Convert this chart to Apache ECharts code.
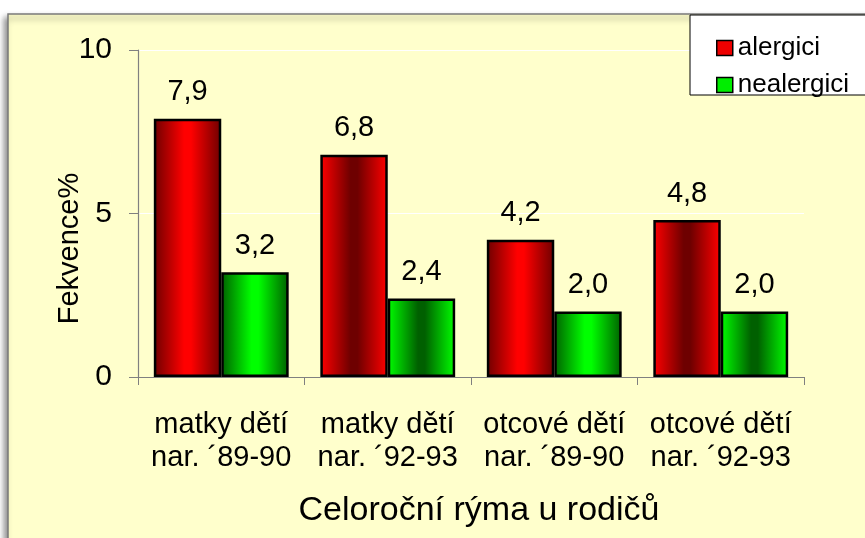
<!DOCTYPE html>
<html>
<head>
<meta charset="utf-8">
<script src="https://cdn.jsdelivr.net/npm/echarts@6/dist/echarts.min.js"></script>
<style>
    html, body { margin: 0; padding: 0; background: #ffffff; }
    #chart { width: 865px; height: 538px; }
</style>
</head>
<body>
<div id="chart"></div>
<script>
// data
const categories = [
    'matky dětí\nnar. ´89-90',
    'matky dětí\nnar. ´92-93',
    'otcové dětí\nnar. ´89-90',
    'otcové dětí\nnar. ´92-93',
]
const seriesNames = ['alergici', 'nealergici']
const alergici = [7.9, 6.8, 4.2, 4.8]
const nealergici = [3.2, 2.4, 2.0, 2.0]
const yTicks = [0, 5, 10]

const FONT = '"Liberation Sans", Arial, sans-serif'

// gradient per bar: light in middle (odd) or dark in middle (even)
function barColor(dark, light, idx) {
    const midDark = idx % 2 === 1
    const edge = midDark ? light : dark
    const mid = midDark ? dark : light
    return new echarts.graphic.LinearGradient(0, 0, 1, 0, [
        { offset: 0, color: edge },
        { offset: 0.45, color: mid },
        { offset: 0.55, color: mid },
        { offset: 1, color: edge },
    ])
}
function buildData(values, dark, light) {
    return values.map((v, i) => ({
        value: v,
        itemStyle: { color: barColor(dark, light, i) },
    }))
}

const myChart = echarts.init(document.getElementById('chart'))
const option = {
    animation: false,
    textStyle: { fontFamily: FONT },
    graphic: [
        {
            type: 'rect',
            z: -10,
            shape: { x: 8, y: 14, width: 900, height: 600 },
            style: {
                fill: '#FFFFCC',
                stroke: '#7a7a7a',
                lineWidth: 1.5,
                shadowBlur: 6,
                shadowOffsetX: -3,
                shadowOffsetY: 4,
                shadowColor: 'rgba(0,0,0,0.45)',
            },
        },
        {
            type: 'rect',
            z: 1,
            shape: { x: 690, y: 15, width: 200, height: 80 },
            style: { fill: '#ffffff', stroke: '#000000', lineWidth: 1 },
        },
    ],
    legend: {
        data: [
            { name: 'alergici', itemStyle: { color: '#ee0000', borderColor: '#000', borderWidth: 1.5 } },
            { name: 'nealergici', itemStyle: { color: '#00ee00', borderColor: '#000', borderWidth: 1.5 } },
        ],
        orient: 'vertical',
        left: 716,
        top: 35,
        itemWidth: 16,
        itemHeight: 15,
        itemGap: 11,
        icon: 'rect',
        padding: 0,
        z: 5,
        textStyle: { fontSize: 26, color: '#000', fontFamily: FONT, lineHeight: 26 },
    },
    grid: { left: 138, right: 61, top: 50, bottom: 161 },
    xAxis: {
        type: 'category',
        data: categories,
        name: 'Celoroční rýma u rodičů',
        nameLocation: 'middle',
        nameGap: 117,
        nameTextStyle: { fontSize: 34, color: '#000', fontFamily: FONT, padding: [0, 0, 0, 16] },
        axisLine: { lineStyle: { color: '#808080', width: 1.2 } },
        axisTick: { show: true, length: 8, lineStyle: { color: '#808080' } },
        axisLabel: {
            fontSize: 29,
            lineHeight: 33,
            color: '#000',
            margin: 31,
            interval: 0,
            fontFamily: FONT,
        },
    },
    yAxis: {
        type: 'value',
        min: 0,
        max: 10,
        interval: 5,
        name: 'Fekvence%',
        nameLocation: 'middle',
        nameGap: 54,
        nameMoveOverlap: false,
        nameTextStyle: { fontSize: 29, color: '#000', fontFamily: FONT, padding: [0, 70, 0, 0] },
        axisLine: { show: true, lineStyle: { color: '#808080', width: 1.2 } },
        axisTick: { show: true, inside: false, length: 9, lineStyle: { color: '#808080' } },
        axisLabel: {
            fontSize: 30,
            color: '#000',
            margin: 26,
            fontFamily: FONT,
            formatter: v => (yTicks.includes(v) ? String(v) : ''),
        },
        splitLine: { show: true, lineStyle: { color: '#ffffff', width: 1 } },
    },
    series: [
        {
            name: seriesNames[0],
            type: 'bar',
            barGap: '0%',
            barCategoryGap: '19%',
            data: buildData(alergici, '#6e0000', '#ff0000'),
            itemStyle: { borderColor: '#000', borderWidth: 2.5 },
            label: {
                show: true,
                position: 'top',
                distance: 12,
                fontSize: 29,
                color: '#000',
                fontFamily: FONT,
                formatter: p => p.value.toFixed(1).replace('.', ','),
            },
        },
        {
            name: seriesNames[1],
            type: 'bar',
            data: buildData(nealergici, '#006000', '#00ff00'),
            itemStyle: { borderColor: '#000', borderWidth: 2.5 },
            label: {
                show: true,
                position: 'top',
                distance: 12,
                fontSize: 29,
                color: '#000',
                fontFamily: FONT,
                formatter: p => p.value.toFixed(1).replace('.', ','),
            },
        },
    ],
}
myChart.setOption(option)
</script>
</body>
</html>
